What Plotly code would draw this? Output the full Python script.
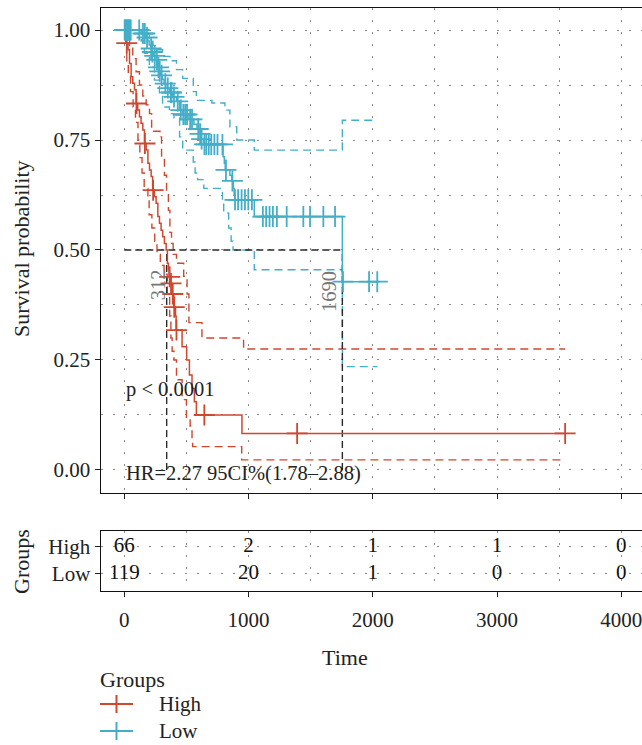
import numpy as np
import plotly.graph_objects as go

W, H = 642, 745

# ---------------- data ----------------
# High group: Kaplan-Meier steps (time of step, survival after step)
high_time = [0, 5, 12, 30, 42, 55, 68, 82, 95, 108, 122, 135, 149, 162, 176, 190, 203, 216, 228, 242,
             256, 270, 283, 296, 309, 323, 337, 347, 355, 360, 372, 385, 398, 412, 417, 465, 502, 524,
             545, 564, 580, 947]
high_surv = [1.000, 0.985, 0.970, 0.955, 0.924, 0.894, 0.879, 0.864, 0.833, 0.818, 0.803, 0.788, 0.773,
             0.742, 0.727, 0.697, 0.682, 0.667, 0.636, 0.621, 0.606, 0.576, 0.561, 0.545, 0.530, 0.515,
             0.500, 0.470, 0.455, 0.439, 0.424, 0.400, 0.370, 0.350, 0.318, 0.280, 0.250, 0.216, 0.185,
             0.155, 0.125, 0.083]
high_end = 3548
high_cens = [20, 98, 166, 232, 365, 376, 390, 402, 420, 644, 1391, 3548]
high_up_time = [0, 20, 42, 68, 95, 122, 149, 176, 203, 220, 287, 300, 323, 340, 355, 367, 380, 393, 420,
                478, 505, 520, 625, 960]
high_up_surv = [1.0, 0.995, 0.965, 0.935, 0.905, 0.875, 0.85, 0.83, 0.81, 0.77, 0.757, 0.711, 0.67, 0.63,
                0.59, 0.54, 0.515, 0.49, 0.47, 0.44, 0.40, 0.335, 0.30, 0.275]
high_lo_time = [0, 5, 20, 32, 50, 71, 90, 110, 125, 143, 160, 190, 200, 222, 245, 263, 290, 320, 345, 365,
                375, 385, 400, 420, 465, 500, 530, 545, 550, 945]
high_lo_surv = [1.0, 0.97, 0.93, 0.90, 0.86, 0.825, 0.79, 0.75, 0.71, 0.675, 0.64, 0.62, 0.58, 0.55, 0.52,
                0.49, 0.465, 0.445, 0.40, 0.35, 0.30, 0.27, 0.25, 0.205, 0.16, 0.12, 0.10, 0.07, 0.053, 0.023]

# Low group
low_time = [0, 136, 175, 190, 200, 212, 222, 232, 258, 268, 280, 292, 305, 320, 345, 365, 390, 420, 445,
            470, 520, 560, 585, 600, 615, 640, 795, 805, 812, 850, 865, 878, 884, 890, 1046, 1755]
low_surv = [1.0, 0.992, 0.983, 0.975, 0.966, 0.958, 0.950, 0.941, 0.932, 0.915, 0.906, 0.897, 0.888, 0.878,
            0.868, 0.858, 0.848, 0.838, 0.818, 0.808, 0.797, 0.786, 0.775, 0.764, 0.752, 0.740, 0.712, 0.697,
            0.682, 0.670, 0.657, 0.640, 0.625, 0.614, 0.576, 0.428]
low_end = 2036
low_cens = [3, 8, 14, 20, 26, 32, 38, 45, 52, 120, 150, 165, 183, 216, 226, 245, 262, 275, 285, 300, 330,
            350, 375, 380, 400, 430, 455, 475, 490, 505, 530, 545, 595, 610, 622, 645, 660, 680, 700, 725,
            750, 790, 818, 870, 891, 916, 944, 971, 998, 1027, 1115, 1142, 1169, 1196, 1228, 1307, 1441,
            1495, 1602, 1696, 1760, 1970, 2036]
low_up_time = [0, 190, 202, 230, 260, 308, 367, 420, 470, 555, 580, 705, 810, 850, 905, 1046, 1755]
low_up_surv = [1.0, 0.99, 0.977, 0.965, 0.955, 0.94, 0.93, 0.91, 0.89, 0.86, 0.84, 0.834, 0.818, 0.78,
               0.75, 0.727, 0.795]
low_lo_time = [0, 136, 162, 202, 243, 283, 308, 363, 400, 445, 470, 555, 570, 590, 640, 790, 800, 840, 860,
               875, 1046, 1755]
low_lo_surv = [1.0, 0.975, 0.947, 0.916, 0.886, 0.857, 0.825, 0.81, 0.80, 0.757, 0.727, 0.70, 0.675, 0.66,
               0.64, 0.61, 0.584, 0.55, 0.52, 0.50, 0.455, 0.235]

# medians
median_high = 341
median_low = 1755
median_text = ["312", "1690"]

# risk table
risk_times = [0, 1000, 2000, 3000, 4000]
risk_high = [66, 2, 1, 1, 0]
risk_low = [119, 20, 1, 0, 0]

groups = ["High", "Low"]
p_text = "p < 0.0001"
hr_text = "HR=2.27 95CI%(1.78\u20132.88)"

# ---------------- styling ----------------
RED = "#D0472E"
BLUE = "#43AEC8"
COLORS = [RED, BLUE]
FONT = "Liberation Serif"
FS = 21        # tick labels, table numbers, legend labels
FT = 22        # axis titles / legend title
FA = 20.5      # in-plot annotations
TXT = "#222"
GRID = "#8a8a8a"
GDASH = "2px,10px"


def px_x(p):
    return p / W


def px_y(p):
    return 1 - p / H


def extend(t, s, end):
    return list(t) + [end], list(s) + [s[-1]]


def at(t_arr, s_arr, ts):
    idx = np.searchsorted(np.array(t_arr), np.array(ts), side="right") - 1
    return [s_arr[i] for i in idx]


fig = go.Figure()

# confidence bands (dashed)
for t, s, c, end in [(high_up_time, high_up_surv, RED, high_end), (high_lo_time, high_lo_surv, RED, high_end),
                     (low_up_time, low_up_surv, BLUE, low_end), (low_lo_time, low_lo_surv, BLUE, low_end)]:
    x, y = extend(t, s, end)
    fig.add_trace(go.Scatter(x=x, y=y, mode="lines", line=dict(color=c, width=1.4, dash="8px,5px", shape="hv"),
                             showlegend=False, hoverinfo="skip"))

# median lines
MED = dict(color="#2a2a2a", width=1.4, dash="7px,4px")
fig.add_trace(go.Scatter(x=[0, median_low], y=[0.5, 0.5], mode="lines", line=MED, showlegend=False))
fig.add_trace(go.Scatter(x=[median_high, median_high], y=[0, 0.5], mode="lines", line=MED, showlegend=False))
fig.add_trace(go.Scatter(x=[median_low, median_low], y=[0, 0.5], mode="lines", line=MED, showlegend=False))

# survival curves
x, y = extend(high_time, high_surv, high_end)
fig.add_trace(go.Scatter(x=x, y=y, mode="lines", name="High", line=dict(color=RED, width=1.5, shape="hv"),
                         showlegend=False))
x, y = extend(low_time, low_surv, low_end)
fig.add_trace(go.Scatter(x=x, y=y, mode="lines", name="Low", line=dict(color=BLUE, width=1.5, shape="hv"),
                         showlegend=False))

# censor marks
fig.add_trace(go.Scatter(x=high_cens, y=at(high_time, high_surv, high_cens), mode="markers",
                         marker=dict(symbol="cross-thin", size=15, line=dict(color=RED, width=1.8)),
                         showlegend=False))
fig.add_trace(go.Scatter(x=low_cens, y=at(low_time, low_surv, low_cens), mode="markers",
                         marker=dict(symbol="cross-thin", size=15, line=dict(color=BLUE, width=1.8)),
                         showlegend=False))

# risk table
fig.add_trace(go.Scatter(x=risk_times, y=[2] * len(risk_times), text=[str(v) for v in risk_high],
                         mode="text", textfont=dict(family=FONT, size=FS, color="#111"),
                         xaxis="x2", yaxis="y2", showlegend=False))
fig.add_trace(go.Scatter(x=risk_times, y=[1] * len(risk_times), text=[str(v) for v in risk_low],
                         mode="text", textfont=dict(family=FONT, size=FS, color="#111"),
                         xaxis="x2", yaxis="y2", showlegend=False))

x0 = (100.7 - 124.3) / 0.12425
x1 = (W - 124.3) / 0.12425
xdom = [100.7 / W, 1.0]
main_dom = [px_y(493), px_y(8)]
risk_dom = [px_y(590.7), px_y(530.7)]

common_x = dict(range=[x0, x1], tickvals=[0, 1000, 2000, 3000, 4000], ticks="outside", ticklen=5,
                tickwidth=1.2, tickcolor=TXT, showline=True, linecolor="#111", linewidth=1.3, mirror=True,
                showgrid=True, gridcolor=GRID, gridwidth=1, griddash=GDASH, zeroline=False,
                minor=dict(dtick=500, tick0=0, showgrid=True, gridcolor=GRID, gridwidth=1, griddash=GDASH),
                tickfont=dict(family=FONT, size=FS, color=TXT), automargin=False, ticklabeloverflow="allow")

fig.update_layout(
    width=W, height=H, margin=dict(l=0, r=0, t=0, b=0, autoexpand=False),
    paper_bgcolor="white", plot_bgcolor="white",
    font=dict(family=FONT, size=FS, color=TXT),
    xaxis=dict(domain=xdom, anchor="y", showticklabels=False, **common_x),
    yaxis=dict(domain=main_dom, range=[-0.0523, 1.05], tickvals=[0, 0.25, 0.5, 0.75, 1.0],
               ticktext=["0.00", "0.25", "0.50", "0.75", "1.00"], ticks="outside", ticklen=5, tickwidth=1.2,
               tickcolor=TXT, showline=True, linecolor="#111", linewidth=1.3, mirror=False,
               showgrid=True, gridcolor=GRID, griddash=GDASH, zeroline=False, automargin=False,
               minor=dict(dtick=0.125, tick0=0, showgrid=True, gridcolor=GRID, griddash=GDASH),
               tickfont=dict(family=FONT, size=FS, color=TXT)),
    xaxis2=dict(domain=xdom, anchor="y2", showticklabels=True, ticklabelstandoff=5, **common_x),
    yaxis2=dict(domain=risk_dom, range=[0.388, 2.586], tickvals=[1, 2], ticktext=["Low", "High"],
                ticks="outside", ticklen=5, tickwidth=1.2, tickcolor=TXT, showline=True, linecolor="#111",
                linewidth=1.3, mirror=False, showgrid=True, gridcolor=GRID, griddash=GDASH, zeroline=False,
                automargin=False, tickfont=dict(family=FONT, size=FS, color=TXT)),
    showlegend=False,
)

ann = []


def add_text(text, x, y, xref="paper", yref="paper", angle=0, xanchor="center", color=TXT, size=FS):
    ann.append(dict(text=text, x=x, y=y, xref=xref, yref=yref, textangle=angle, showarrow=False,
                    xanchor=xanchor, yanchor="middle", font=dict(family=FONT, size=size, color=color)))


add_text("Survival probability", px_x(21), px_y(249), angle=-90, size=FT)
add_text("Groups", px_x(21), px_y(561), angle=-90, size=FT)
add_text("Time", px_x(345), px_y(657), size=FT)
add_text(p_text, -2, 0.182, "x", "y", xanchor="left", size=FA)
add_text(hr_text, -2, -0.007, "x", "y", xanchor="left", size=FA)
add_text(median_text[0], 272, 0.42, "x", "y", angle=-90, color="#777", size=FA)
add_text(median_text[1], 1642, 0.405, "x", "y", angle=-90, color="#777", size=FA)

# manual legend (title, glyphs, labels)
add_text("Groups", px_x(98), px_y(679), xanchor="left", size=FT)
shapes = []
for i, (g, c) in enumerate(zip(groups, COLORS)):
    yc = 704 + 27 * i
    add_text(g, px_x(157), px_y(yc), xanchor="left")
    shapes.append(dict(type="line", xref="paper", yref="paper", x0=px_x(100), x1=px_x(133),
                       y0=px_y(yc), y1=px_y(yc), line=dict(color=c, width=2)))
    shapes.append(dict(type="line", xref="paper", yref="paper", x0=px_x(116.5), x1=px_x(116.5),
                       y0=px_y(yc - 9), y1=px_y(yc + 9), line=dict(color=c, width=2)))

fig.update_layout(annotations=ann, shapes=shapes)

fig.write_html("out.html")
